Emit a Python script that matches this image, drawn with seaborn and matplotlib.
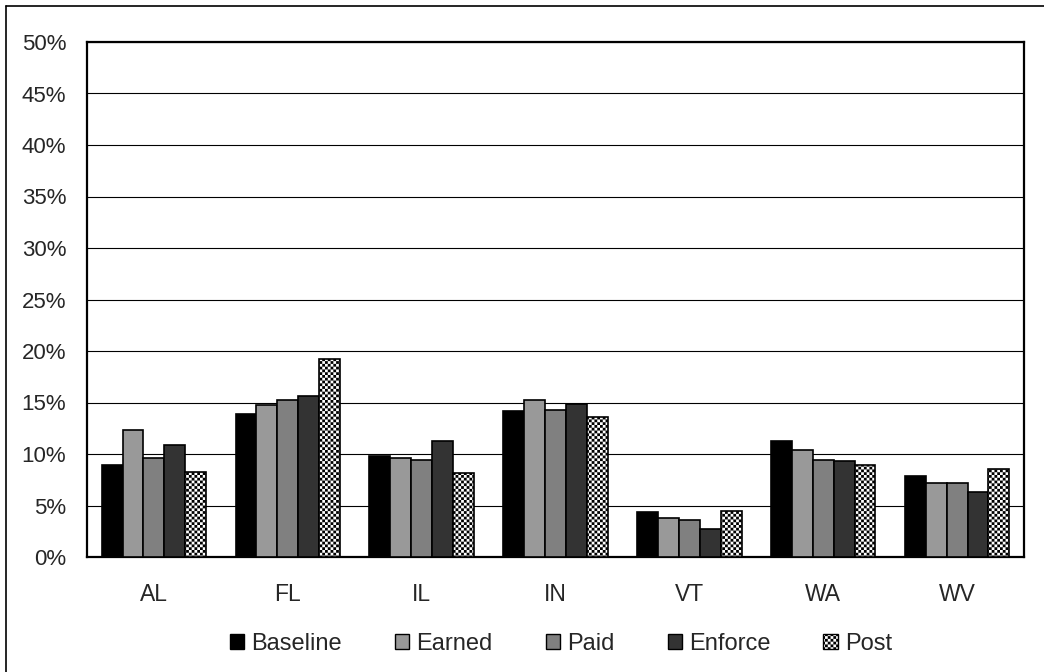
import warnings
import numpy as np
import pandas as pd
import matplotlib
matplotlib.use("Agg")
import matplotlib.pyplot as plt
from matplotlib import hatch as mhatch
from matplotlib.path import Path
from matplotlib.patches import Patch
from matplotlib.lines import Line2D
from matplotlib.ticker import PercentFormatter
import seaborn as sns

# ---- data (percent) ----
states = ["AL", "FL", "IL", "IN", "VT", "WA", "WV"]
series = ["Baseline", "Earned", "Paid", "Enforce", "Post"]
baseline = [8.9, 13.9, 9.8, 14.2, 4.4, 11.3, 7.9]
earned = [12.3, 14.8, 9.6, 15.2, 3.8, 10.4, 7.2]
paid = [9.6, 15.2, 9.4, 14.3, 3.6, 9.4, 7.2]
enforce = [10.9, 15.6, 11.3, 14.9, 2.7, 9.3, 6.3]
post = [8.3, 19.2, 8.2, 13.6, 4.5, 8.9, 8.5]

fills = ["#000000", "#999999", "#808080", "#333333", "#ffffff"]


# checkerboard fill pattern, selected with the '#' hatch character
class CheckerHatch(mhatch.HatchPatternBase):
    def __init__(self, hatch, density):
        self.n = 36 if "#" in hatch else 0
        self.num_vertices = (self.n * self.n // 2) * 5

    def set_vertices_and_codes(self, vertices, codes):
        n = self.n
        s = 1.0 / n
        k = 0
        for i in range(n):
            for j in range(n):
                if (i + j) % 2 == 0:
                    x0, y0 = i * s, j * s
                    vertices[k:k + 5] = [(x0, y0), (x0 + s, y0), (x0 + s, y0 + s),
                                         (x0, y0 + s), (x0, y0)]
                    codes[k:k + 5] = [Path.MOVETO, Path.LINETO, Path.LINETO,
                                      Path.LINETO, Path.CLOSEPOLY]
                    k += 5


mhatch._hatch_types.append(CheckerHatch)
warnings.filterwarnings("ignore")

sns.set_style("white")
plt.rcParams["font.family"] = ["Liberation Sans", "DejaVu Sans"]
plt.rcParams["hatch.linewidth"] = 0.01
plt.rcParams["hatch.color"] = "black"

df = pd.DataFrame({
    "state": states * len(series),
    "series": np.repeat(series, len(states)),
    "value": baseline + earned + paid + enforce + post,
})

fig = plt.figure(figsize=(10.44, 6.72), dpi=100)
ax = fig.add_axes([87 / 1044, 1 - 557 / 672, (1024 - 87) / 1044, (557 - 42) / 672])

sns.barplot(data=df, x="state", y="value", hue="series", order=states,
            hue_order=series, palette=fills, width=0.78, gap=0,
            saturation=1, edgecolor="black", linewidth=1.2, ax=ax,
            legend=False, zorder=3)
for bar in ax.containers[4]:
    bar.set_hatch("#")

ax.set_ylim(0, 50)
ax.set_yticks(np.arange(0, 51, 5))
ax.yaxis.set_major_formatter(PercentFormatter(decimals=0))
ax.grid(axis="y", color="black", linewidth=0.8, zorder=0)
ax.set_axisbelow(True)
ax.set_xlabel("")
ax.set_ylabel("")
for sp in ax.spines.values():
    sp.set_visible(True)
    sp.set_color("black")
    sp.set_linewidth(1.6)
ax.tick_params(axis="y", length=0, pad=15, labelsize=16)
ax.tick_params(axis="x", length=0, pad=19, labelsize=16.5)

handles = [Patch(facecolor=c, edgecolor="black", linewidth=1.0,
                 hatch="#" if s == "Post" else None)
           for c, s in zip(fills, series)]
fig.legend(handles, series, loc="center", bbox_to_anchor=(561 / 1044, 1 - 644 / 672),
           ncol=5, frameon=False, fontsize=17, handlelength=0.6,
           handleheight=0.6, handletextpad=0.3, columnspacing=2.25)

# outer frame (left and top edges)
fig.add_artist(Line2D([6 / 1044, 6 / 1044], [0, 1 - 6 / 672], color="black",
                      linewidth=1.2, transform=fig.transFigure))
fig.add_artist(Line2D([6 / 1044, 1], [1 - 6 / 672, 1 - 6 / 672], color="black",
                      linewidth=1.2, transform=fig.transFigure))

fig.savefig("out.png", dpi=100)
